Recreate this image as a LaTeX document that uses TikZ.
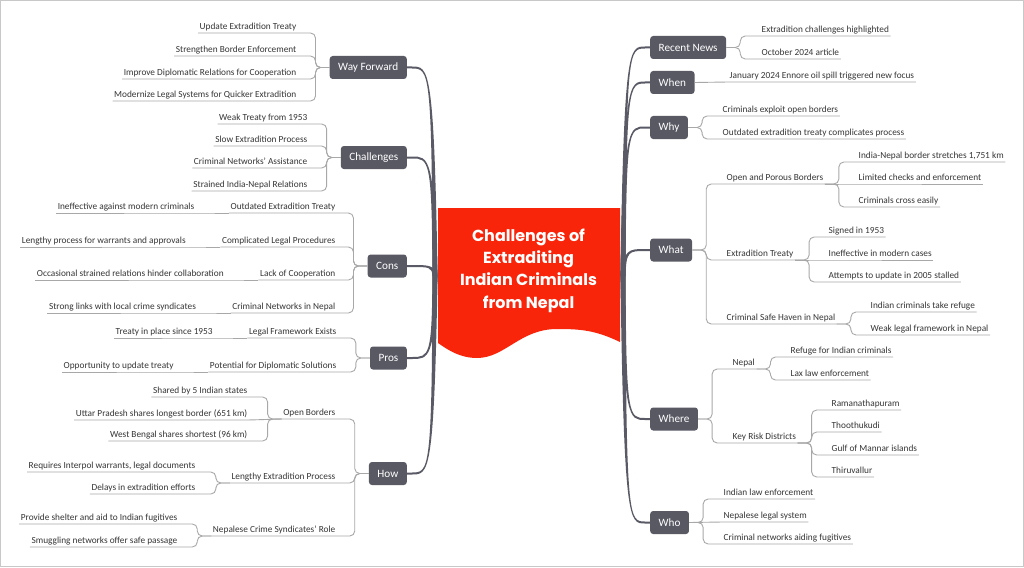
\documentclass[tikz,border=0pt]{standalone}
\usepackage{fontspec}
\setmainfont{Carlito}
\newfontfamily\titlefont{Poppins}
\usetikzlibrary{calc}
\definecolor{topicc}{HTML}{595964}
\definecolor{trunkc}{HTML}{5A5A66}
\definecolor{connc}{HTML}{A8A8A8}
\definecolor{leaftext}{HTML}{363636}
\definecolor{redc}{HTML}{F8250B}
\definecolor{bordc}{HTML}{C8C8C8}
\newcommand\brwa{2.6pt}
\newcommand\brwb{1pt}
% #1 start coordinate, #2 end anchor, #3 hx (+1 right / -1 left), #4 vy (+1 box above / -1 box below)
\newcommand\trunkbranch[4]{%
 \fill[trunkc] let \p1=(#1), \p2=(#2) in
  ({\x1-(#3)*\brwa}, {\y1}) .. controls ({\x1+(#3)*2pt-(#3)*\brwb}, {\y2+(#4)*\brwb}) and ({\x1+(#3)*6pt}, {\y2+(#4)*\brwb}) .. ({\x2-(#3)*5pt}, {\y2+(#4)*\brwb})
  -- ({\x2}, {\y2+(#4)*\brwb}) -- ({\x2}, {\y2-(#4)*\brwb}) -- ({\x2-(#3)*5pt}, {\y2-(#4)*\brwb})
  .. controls ({\x1+(#3)*6pt}, {\y2-(#4)*\brwb}) and ({\x1+(#3)*2pt+(#3)*\brwb}, {\y2-(#4)*\brwb}) .. ({\x1+(#3)*\brwa}, {\y1}) -- cycle;
}
\begin{document}
\begin{tikzpicture}[x=1pt,y=-1pt,
 topic/.style={fill=topicc, rounded corners=3pt, text=white, font=\fontsize{11.2}{13}\selectfont, minimum height=23pt, inner xsep=8.5pt, inner ysep=0pt},
 leaf/.style={font=\fontsize{9.3}{11}\selectfont, text=leaftext, inner xsep=1.5pt, inner ysep=0.8pt, text height=6.6pt, text depth=2.2pt},
 conn/.style={draw=connc, line width=0.9pt, rounded corners=5pt},
 lleaf/.style={leaf, anchor=south east},
 rleaf/.style={leaf, anchor=south west},
]
\useasboundingbox (0,0) rectangle (1024,567);
\fill[white] (0,0) rectangle (1024,567);
\draw[bordc, line width=1pt] (0.5,0.5) rectangle (1023.5,566.5);

% ---------- topic boxes ----------
\node[topic, anchor=east] (wf) at (407,67.5) {Way Forward};
\node[topic, anchor=east] (chl) at (407,157.5) {Challenges};
\node[topic, anchor=east] (cons) at (407,266) {Cons};
\node[topic, anchor=east] (pros) at (407,358) {Pros};
\node[topic, anchor=east] (how) at (407,473.5) {How};
\node[topic, anchor=west] (rn) at (650,47.5) {Recent News};
\node[topic, anchor=west] (when) at (650,82.5) {When};
\node[topic, anchor=west] (why) at (650,127.5) {Why};
\node[topic, anchor=west] (what) at (650,250) {What};
\node[topic, anchor=west] (where) at (650,419) {Where};
\node[topic, anchor=west] (who) at (650,522.5) {Who};

% ---------- trunk ----------
\coordinate (LS) at (435,276);
\coordinate (RS) at (623,276);
\trunkbranch{LS}{wf.east}{-1}{1}
\trunkbranch{LS}{chl.east}{-1}{1}
\trunkbranch{LS}{cons.east}{-1}{1}
\trunkbranch{LS}{pros.east}{-1}{-1}
\trunkbranch{LS}{how.east}{-1}{-1}
\trunkbranch{RS}{rn.west}{1}{1}
\trunkbranch{RS}{when.west}{1}{1}
\trunkbranch{RS}{why.west}{1}{1}
\trunkbranch{RS}{what.west}{1}{1}
\trunkbranch{RS}{where.west}{1}{-1}
\trunkbranch{RS}{who.west}{1}{-1}

% ---------- central topic ----------
\fill[redc] (438,208) -- (620,208) -- (620,342)
  .. controls (595,330) and (580,329) .. (557,329)
  .. controls (520,329) and (505,358) .. (477,358)
  .. controls (460,358) and (448,350) .. (438,343) -- cycle;
\node[font=\titlefont\bfseries\fontsize{16}{22.3}\selectfont, text=white, align=center] (title) at (528.5,270.5) {Challenges of\\Extraditing\\Indian Criminals\\from Nepal};

% ---------- Way Forward ----------
\node[lleaf] (wf1) at (298,33) {Update Extradition Treaty};
\node[lleaf] (wf2) at (298,56) {Strengthen Border Enforcement};
\node[lleaf] (wf3) at (298,79) {Improve Diplomatic Relations for Cooperation};
\node[lleaf] (wf4) at (298,101) {Modernize Legal Systems for Quicker Extradition};
\foreach \c in {wf1,wf2,wf3,wf4}
  \draw[conn] (wf.west) -- ++(-14,0) |- (\c.south east) -- (\c.south west);

% ---------- Challenges ----------
\node[lleaf] (ch1) at (309,124) {Weak Treaty from 1953};
\node[lleaf] (ch2) at (309,146) {Slow Extradition Process};
\node[lleaf] (ch3) at (309,168) {Criminal Networks' Assistance};
\node[lleaf] (ch4) at (309,191) {Strained India-Nepal Relations};
\foreach \c in {ch1,ch2,ch3,ch4}
  \draw[conn] (chl.west) -- ++(-14,0) |- (\c.south east) -- (\c.south west);

% ---------- Cons ----------
\node[lleaf] (co1) at (337,213) {Outdated Extradition Treaty};
\node[lleaf] (co2) at (337,247) {Complicated Legal Procedures};
\node[lleaf] (co3) at (337,280) {Lack of Cooperation};
\node[lleaf] (co4) at (337,313) {Criminal Networks in Nepal};
\foreach \c in {co1,co2,co3,co4}
  \draw[conn] (cons.west) -- ++(-14,0) |- (\c.south east) -- (\c.south west);
\node[lleaf] (co1a) at ([xshift=-33pt]co1.south west) {Ineffective against modern criminals};
\node[lleaf] (co2a) at ([xshift=-33pt]co2.south west) {Lengthy process for warrants and approvals};
\node[lleaf] (co3a) at ([xshift=-33pt]co3.south west) {Occasional strained relations hinder collaboration};
\node[lleaf] (co4a) at ([xshift=-33pt]co4.south west) {Strong links with local crime syndicates};
\foreach \p/\c in {co1/co1a,co2/co2a,co3/co3a,co4/co4a}
  \draw[conn] (\p.south west) -- (\c.south east) -- (\c.south west);

% ---------- Pros ----------
\node[lleaf] (pr1) at (338,338) {Legal Framework Exists};
\node[lleaf] (pr2) at (338,372) {Potential for Diplomatic Solutions};
\foreach \c in {pr1,pr2}
  \draw[conn] (pros.west) -- ++(-14,0) |- (\c.south east) -- (\c.south west);
\node[lleaf] (pr1a) at ([xshift=-33pt]pr1.south west) {Treaty in place since 1953};
\node[lleaf] (pr2a) at ([xshift=-33pt]pr2.south west) {Opportunity to update treaty};
\foreach \p/\c in {pr1/pr1a,pr2/pr2a}
  \draw[conn] (\p.south west) -- (\c.south east) -- (\c.south west);

% ---------- How ----------
\node[lleaf] (ho1) at (337,419) {Open Borders};
\node[lleaf] (ho2) at (337,483) {Lengthy Extradition Process};
\node[lleaf] (ho3) at (337,536) {Nepalese Crime Syndicates' Role};
\foreach \c in {ho1,ho2,ho3}
  \draw[conn] (how.west) -- ++(-14,0) |- (\c.south east) -- (\c.south west);
\node[lleaf] (ho1a) at (249,397) {Shared by 5 Indian states};
\node[lleaf] (ho1b) at (249,420) {Uttar Pradesh shares longest border (651 km)};
\node[lleaf] (ho1c) at (249,441) {West Bengal shares shortest (96 km)};
\foreach \c in {ho1a,ho1c}
  \draw[conn] (ho1.south west) -- ++(-14,0) |- (\c.south east) -- (\c.south west);
\draw[conn] (ho1.south west) -- (ho1b.south east) -- (ho1b.south west);
\node[lleaf] (ho2a) at (197,472) {Requires Interpol warrants, legal documents};
\node[lleaf] (ho2b) at (197,494) {Delays in extradition efforts};
\foreach \c in {ho2a,ho2b}
  \draw[conn] (ho2.south west) -- ++(-14,0) |- (\c.south east) -- (\c.south west);
\node[lleaf] (ho3a) at (179,524) {Provide shelter and aid to Indian fugitives};
\node[lleaf] (ho3b) at (179,547) {Smuggling networks offer safe passage};
\foreach \c in {ho3a,ho3b}
  \draw[conn] (ho3.south west) -- ++(-14,0) |- (\c.south east) -- (\c.south west);

% ---------- Recent News ----------
\node[rleaf] (rn1) at (760,36) {Extradition challenges highlighted};
\node[rleaf] (rn2) at (760,59) {October 2024 article};
\foreach \c in {rn1,rn2}
  \draw[conn] (rn.east) -- ++(14,0) |- (\c.south west) -- (\c.south east);

% ---------- When ----------
\node[rleaf] (wh1) at (728,82) {January 2024 Ennore oil spill triggered new focus};
\draw[conn] (when.east) -- (wh1.south west) -- (wh1.south east);

% ---------- Why ----------
\node[rleaf] (wy1) at (721,116) {Criminals exploit open borders};
\node[rleaf] (wy2) at (721,139) {Outdated extradition treaty complicates process};
\foreach \c in {wy1,wy2}
  \draw[conn] (why.east) -- ++(14,0) |- (\c.south west) -- (\c.south east);

% ---------- What ----------
\node[rleaf] (wt1) at (725,184) {Open and Porous Borders};
\node[rleaf] (wt2) at (725,260) {Extradition Treaty};
\node[rleaf] (wt3) at (725,324) {Criminal Safe Haven in Nepal};
\foreach \c in {wt1,wt2,wt3}
  \draw[conn] (what.east) -- ++(14,0) |- (\c.south west) -- (\c.south east);
\node[rleaf] (wt1a) at (857,162) {India-Nepal border stretches 1,751 km};
\node[rleaf] (wt1b) at (857,184) {Limited checks and enforcement};
\node[rleaf] (wt1c) at (857,207) {Criminals cross easily};
\foreach \c in {wt1a,wt1c}
  \draw[conn] (wt1.south east) -- ++(14,0) |- (\c.south west) -- (\c.south east);
\draw[conn] (wt1.south east) -- (wt1b.south west) -- (wt1b.south east);
\node[rleaf] (wt2a) at (827,237) {Signed in 1953};
\node[rleaf] (wt2b) at (827,260) {Ineffective in modern cases};
\node[rleaf] (wt2c) at (827,282) {Attempts to update in 2005 stalled};
\foreach \c in {wt2a,wt2c}
  \draw[conn] (wt2.south east) -- ++(14,0) |- (\c.south west) -- (\c.south east);
\draw[conn] (wt2.south east) -- (wt2b.south west) -- (wt2b.south east);
\node[rleaf] (wt3a) at (869,312) {Indian criminals take refuge};
\node[rleaf] (wt3b) at (869,335) {Weak legal framework in Nepal};
\foreach \c in {wt3a,wt3b}
  \draw[conn] (wt3.south east) -- ++(14,0) |- (\c.south west) -- (\c.south east);

% ---------- Where ----------
\node[rleaf] (we1) at (731,369) {Nepal};
\node[rleaf] (we2) at (731,443) {Key Risk Districts};
\foreach \c in {we1,we2}
  \draw[conn] (where.east) -- ++(14,0) |- (\c.south west) -- (\c.south east);
\node[rleaf] (we1a) at (789,357) {Refuge for Indian criminals};
\node[rleaf] (we1b) at (789,380) {Lax law enforcement};
\foreach \c in {we1a,we1b}
  \draw[conn] (we1.south east) -- ++(14,0) |- (\c.south west) -- (\c.south east);
\node[rleaf] (we2a) at (830,410) {Ramanathapuram};
\node[rleaf] (we2b) at (830,432) {Thoothukudi};
\node[rleaf] (we2c) at (830,455) {Gulf of Mannar islands};
\node[rleaf] (we2d) at (830,477) {Thiruvallur};
\foreach \c in {we2a,we2b,we2c,we2d}
  \draw[conn] (we2.south east) -- ++(14,0) |- (\c.south west) -- (\c.south east);

% ---------- Who ----------
\node[rleaf] (wo1) at (722,499) {Indian law enforcement};
\node[rleaf] (wo2) at (722,522) {Nepalese legal system};
\node[rleaf] (wo3) at (722,544) {Criminal networks aiding fugitives};
\foreach \c in {wo1,wo3}
  \draw[conn] (who.east) -- ++(14,0) |- (\c.south west) -- (\c.south east);
\draw[conn] (who.east) -- (wo2.south west) -- (wo2.south east);
\end{tikzpicture}
\end{document}
